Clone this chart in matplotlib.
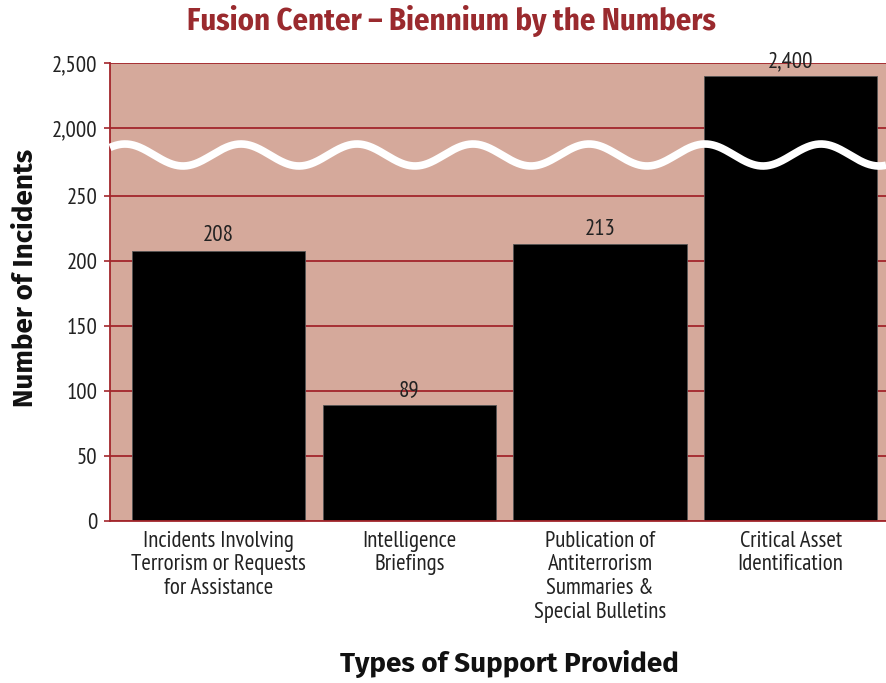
import numpy as np
import matplotlib
matplotlib.use("Agg")
import matplotlib.pyplot as plt
from matplotlib.scale import FuncScale

categories = ["Incidents Involving\nTerrorism or Requests\nfor Assistance",
              "Intelligence\nBriefings",
              "Publication of\nAntiterrorism\nSummaries &\nSpecial Bulletins",
              "Critical Asset\nIdentification"]
values = [208, 89, 213, 2400]
value_labels = ["208", "89", "213", "2,400"]
yticks = [0, 50, 100, 150, 200, 250, 2000, 2500]
ytick_labels = ["0", "50", "100", "150", "200", "250", "2,000", "2,500"]

FONT = ["PT Sans Narrow", "DejaVu Sans"]
BOLD = ["Fira Sans", "DejaVu Sans"]
TBOLD = ["Fira Sans Condensed", "DejaVu Sans"]
PINK = "#D5A99B"
DARKRED = "#A3262C"
TITLE = "#9A2A2E"

# broken axis: piecewise linear mapping
data_bp = [0, 281.5, 1792, 2500]
pos_bp = [0, 366, 366.01, 458]
def fwd(y):
    return np.interp(y, data_bp, pos_bp)
def inv(v):
    return np.interp(v, pos_bp, data_bp)

fig = plt.figure(figsize=(8.86, 6.83), dpi=100)
ax = fig.add_axes([110/886, 1-521/683, 776/886, (521-63)/683])
ax.set_yscale(FuncScale(ax, (fwd, inv)))
ax.set_facecolor(PINK)

x = np.arange(len(values))
ax.set_xlim(-0.57, 3.5)
ax.set_ylim(0, 2500)

for t in yticks:
    ax.axhline(t, color=DARKRED, lw=1.3, zorder=1)

ax.bar(x, values, width=0.91, color="black", edgecolor="#555555", linewidth=0.6, zorder=2)

for xi, v, lab in zip(x, values, value_labels):
    ax.annotate(lab, (xi, v), xytext=(0, 3), textcoords="offset points",
                ha="center", va="bottom", fontsize=16.5, family=FONT, color="#222222", zorder=4)

# wavy break line
period_px = 116.0
width_px = 776.0
xs = np.linspace(0, 1, 800)
px = xs * width_px + 110
amp = 11.0 / 458
yc = 366.0 / 458
ys = yc + amp * np.cos(2 * np.pi * (px - 125) / period_px)
ax.plot(xs, ys, transform=ax.transAxes, color="white", lw=5.5, solid_capstyle="butt",
        zorder=3, clip_on=False)

ax.set_yticks(yticks)
ax.set_yticklabels(ytick_labels, family=FONT, fontsize=16.5, color="#222222")
ax.set_xticks(x)
ax.set_xticklabels(categories, family=FONT, fontsize=16.5, color="#222222", linespacing=1.17, va="top")
ax.tick_params(axis="y", length=4, color=DARKRED, width=1.2, pad=5)
ax.tick_params(axis="x", length=0, pad=7)
ax.minorticks_off()

for s in ["top", "right"]:
    ax.spines[s].set_visible(False)
ax.spines["left"].set_color(DARKRED)
ax.spines["bottom"].set_color(DARKRED)
ax.spines["left"].set_linewidth(1.3)
ax.spines["bottom"].set_linewidth(1.3)

fig.text(25/886, 1-278/683, "Number of Incidents", family=BOLD, fontsize=20, fontweight="bold",
         rotation=90, ha="center", va="center", color="#111111")
fig.text(509/886, 1-664/683, "Types of Support Provided", family=BOLD, fontsize=20,
         fontweight="bold", ha="center", va="center", color="#111111")
fig.text(451/886, 1-21/683, "Fusion Center \u2013 Biennium by the Numbers", family=TBOLD,
         fontsize=22, fontweight="bold", ha="center", va="center", color=TITLE)

fig.savefig("out.png", dpi=100)
